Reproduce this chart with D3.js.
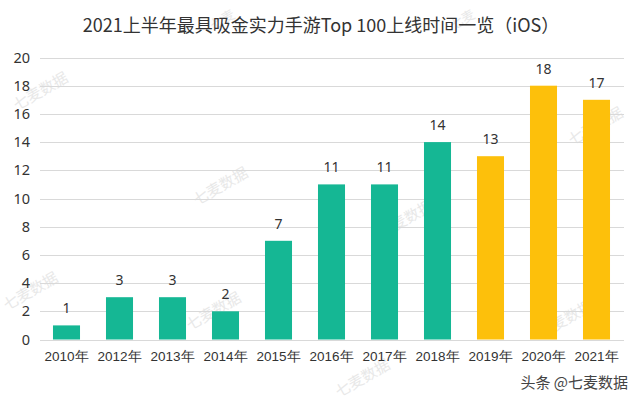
<!DOCTYPE html>
<html><head><meta charset="utf-8">
<script src="https://cdn.jsdelivr.net/npm/d3@7"></script>
<style>
html,body{margin:0;padding:0;background:#fff;}
svg{display:block;font-family:"Noto Sans CJK SC","Noto Sans",sans-serif;}
</style></head>
<body><svg id="c" width="640" height="403"></svg>
<script>
const categories = ["2010年","2012年","2013年","2014年","2015年","2016年","2017年","2018年","2019年","2020年","2021年"];
const values = [1,3,3,2,7,11,11,14,13,18,17];
const yTicks = [0,2,4,6,8,10,12,14,16,18,20];
const title = "2021上半年最具吸金实力手游Top 100上线时间一览（iOS）";
const teal = "#15b794", gold = "#fdc00b";

const svg = d3.select("#c");
const x = d3.scaleBand().domain(categories).range([40,623]).paddingInner(0.49).paddingOuter(0.245);
const y = d3.scaleLinear().domain([0,20]).range([339.5,57.5]);

// watermarks (behind)
const wm = [[40,90,"七麦数据",15],[30,290,"七麦数据",15],[220,185,"七麦数据",15],[405,218,"七麦数据",15],[595,125,"七麦数据",15],[565,318,"七麦数据",15],[213,310,"七麦数据",15],[362,377,"七麦数据",15],[222,19,"七麦",13],[462,19,"七麦",13]];
svg.append("g").selectAll("text").data(wm).join("text")
  .attr("transform",d=>`translate(${d[0]},${d[1]}) rotate(-30)`)
  .attr("text-anchor","middle").attr("dominant-baseline","central")
  .attr("font-size",d=>d[3]).attr("fill","#e8e8e8").text(d=>d[2]);

// gridlines
svg.append("g").selectAll("line").data(yTicks).join("line")
  .attr("x1",40).attr("x2",624).attr("y1",d=>Math.round(y(d))+0.5).attr("y2",d=>Math.round(y(d))+0.5)
  .attr("stroke","#d9d9d9").attr("stroke-width",1);

// y axis labels
const ya = svg.append("g").attr("transform","translate(30,0)")
  .call(d3.axisLeft(y).tickValues(yTicks).tickSize(0).tickPadding(0));
ya.select(".domain").remove();
ya.selectAll("text").attr("font-size",14.5).attr("fill","#333").attr("font-family","Noto Sans, sans-serif");

// bars
svg.append("g").selectAll("rect").data(values).join("rect")
  .attr("x",(d,i)=>x(categories[i])).attr("width",x.bandwidth())
  .attr("y",d=>y(d)).attr("height",d=>y(0)-y(d))
  .attr("fill",(d,i)=>i>=8?gold:teal);

// value labels
svg.append("g").selectAll("text").data(values).join("text")
  .attr("x",(d,i)=>x(categories[i])+x.bandwidth()/2).attr("y",d=>y(d)-12)
  .attr("text-anchor","middle").attr("font-size",14).attr("fill","#333")
  .attr("font-family","Noto Sans, sans-serif").text(d=>d);

// x axis
const xa = svg.append("g").attr("transform","translate(0,350)")
  .call(d3.axisBottom(x).tickSize(0).tickPadding(0));
xa.select(".domain").remove();
xa.selectAll("text").attr("font-size",13.5).attr("fill","#333").attr("dy","0.85em");

// title
svg.append("text").attr("x",321).attr("y",32).attr("text-anchor","middle")
  .attr("font-size",18).attr("fill","#333").text(title);

// footer
svg.append("text").attr("x",628).attr("y",388).attr("text-anchor","end")
  .attr("font-size",15).attr("fill","#444").text("头条 @七麦数据");
</script></body></html>
